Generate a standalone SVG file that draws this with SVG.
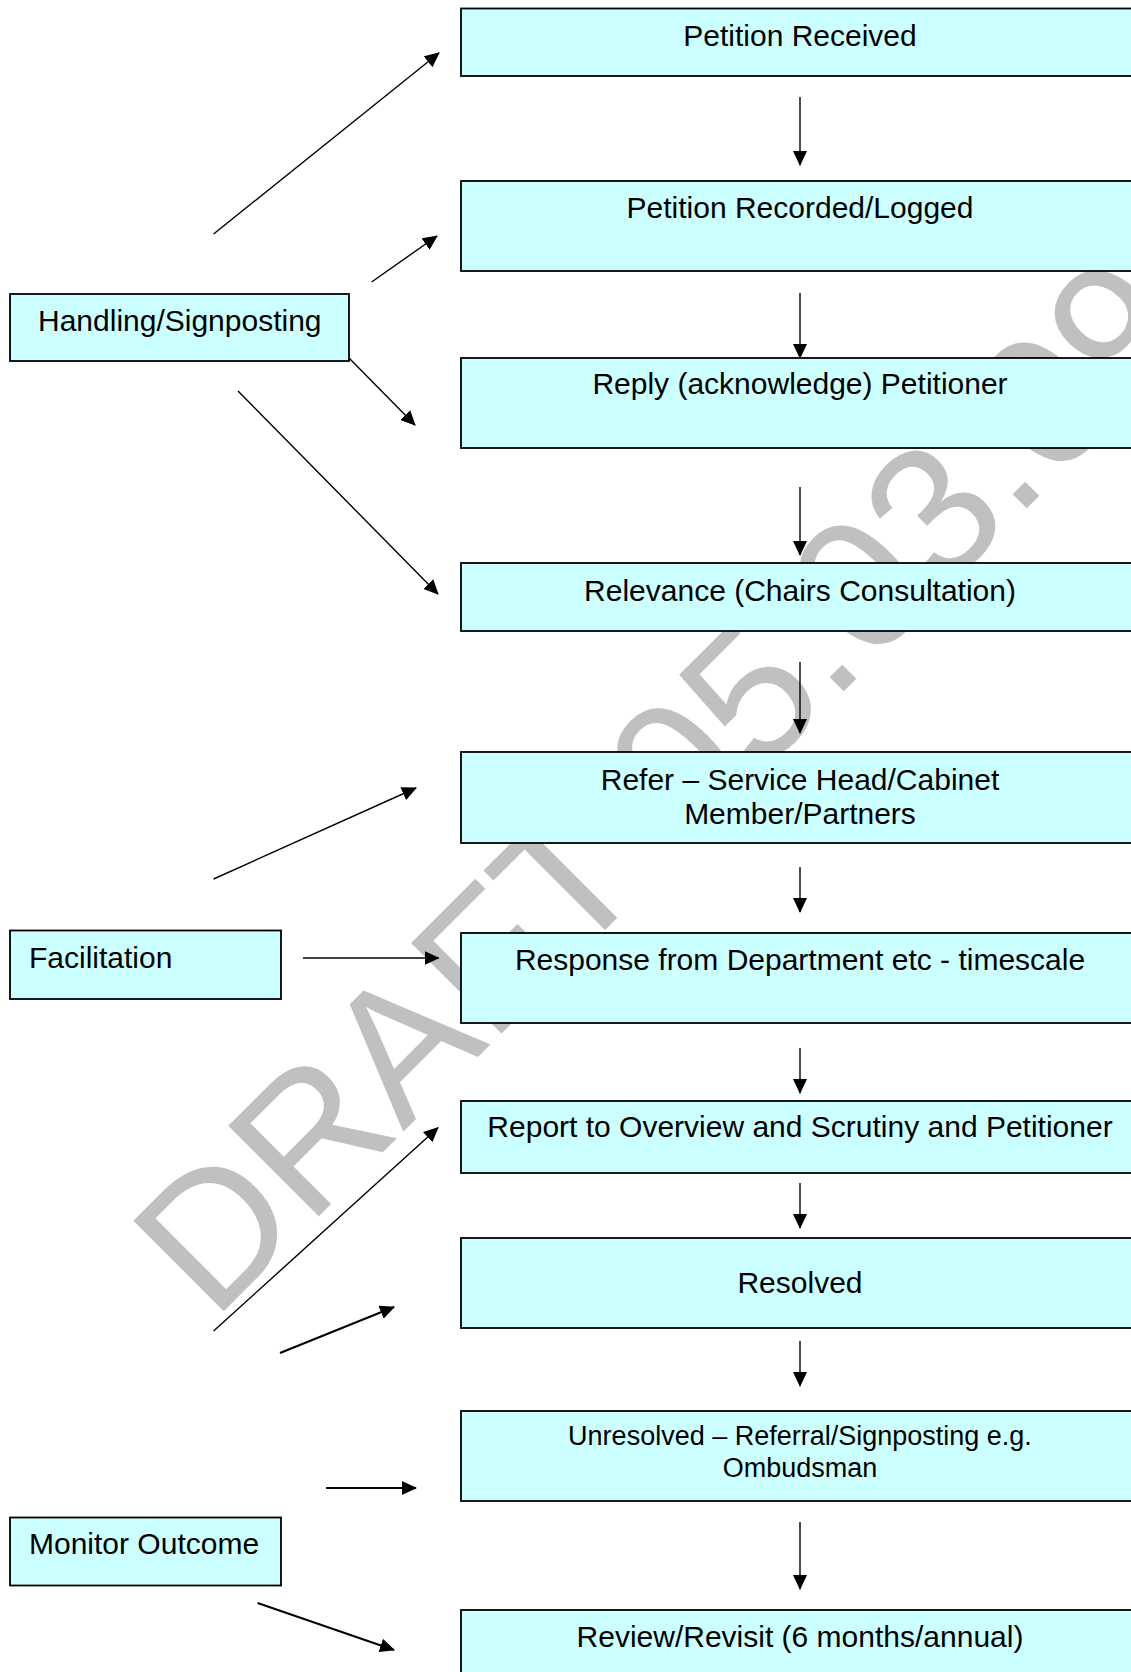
<svg xmlns="http://www.w3.org/2000/svg" width="1131" height="1672" viewBox="0 0 1131 1672">
<style>
.bg{fill:#ffffff}
.wm{fill:#c0c0c0;font-family:"Liberation Sans",Arial,sans-serif;font-size:186px}
.box{fill:#ccffff;stroke:#000;stroke-width:1.8}
.t{font-family:"Liberation Sans",Arial,sans-serif;font-size:30px;fill:#000;text-anchor:middle}
.ts{font-family:"Liberation Sans",Arial,sans-serif;font-size:27px;fill:#000;text-anchor:middle}
.tl{font-family:"Liberation Sans",Arial,sans-serif;font-size:30px;fill:#000}
.c{stroke:#000;stroke-width:1.4;fill:none;marker-end:url(#ah)}
.c2{stroke:#000;stroke-width:2;fill:none;marker-end:url(#ah)}
</style>
<defs>
<marker id="ah" markerUnits="userSpaceOnUse" markerWidth="15" markerHeight="14" refX="14" refY="7" orient="auto" viewBox="0 0 15 14">
<path d="M0,0 L15,7 L0,14 z" fill="#000"/>
</marker>
</defs>
<rect class="bg" x="0" y="0" width="1131" height="1672"/>
<text id="watermark" class="wm" transform="translate(213,1322) rotate(-45)">DRAFT 05.03.09</text>

<g id="n1"><rect class="box" x="461" y="8.5" width="690" height="67.5"/><text class="t" x="800" y="46">Petition Received</text></g>
<g id="n2"><rect class="box" x="461" y="181" width="690" height="90"/><text class="t" x="800" y="218">Petition Recorded/Logged</text></g>
<g id="n3"><rect class="box" x="461" y="358" width="690" height="90"/><text class="t" x="800" y="394">Reply (acknowledge) Petitioner</text></g>
<g id="n4"><rect class="box" x="461" y="563" width="690" height="68"/><text class="t" x="800" y="601">Relevance (Chairs Consultation)</text></g>
<g id="n5"><rect class="box" x="461" y="752" width="690" height="91"/><text class="t" x="800" y="790">Refer – Service Head/Cabinet</text><text class="t" x="800" y="824">Member/Partners</text></g>
<g id="n6"><rect class="box" x="461" y="933" width="690" height="90"/><text class="t" x="800" y="970">Response from Department etc - timescale</text></g>
<g id="n7"><rect class="box" x="461" y="1101" width="690" height="72"/><text class="t" x="800" y="1137">Report to Overview and Scrutiny and Petitioner</text></g>
<g id="n8"><rect class="box" x="461" y="1238" width="690" height="90"/><text class="t" x="800" y="1293">Resolved</text></g>
<g id="n9"><rect class="box" x="461" y="1411" width="690" height="90"/><text class="ts" x="800" y="1445">Unresolved – Referral/Signposting e.g.</text><text class="ts" x="800" y="1477">Ombudsman</text></g>
<g id="n10"><rect class="box" x="461" y="1610" width="690" height="80"/><text class="t" x="800" y="1647">Review/Revisit (6 months/annual)</text></g>

<g id="handling"><rect class="box" x="10" y="294" width="339" height="67"/><text class="tl" x="38" y="331">Handling/Signposting</text></g>
<g id="facilitation"><rect class="box" x="10" y="930.5" width="271" height="68.5"/><text class="tl" x="29" y="968">Facilitation</text></g>
<g id="monitor"><rect class="box" x="10" y="1517.5" width="271" height="68"/><text class="tl" x="29" y="1554">Monitor Outcome</text></g>

<g id="connectors">
<line class="c" x1="800" y1="97" x2="800" y2="165"/>
<line class="c" x1="800" y1="293" x2="800" y2="358"/>
<line class="c" x1="800" y1="487" x2="800" y2="555"/>
<line class="c" x1="800" y1="662" x2="800" y2="733"/>
<line class="c" x1="800" y1="867" x2="800" y2="912"/>
<line class="c" x1="800" y1="1048" x2="800" y2="1093"/>
<line class="c" x1="800" y1="1183" x2="800" y2="1228"/>
<line class="c" x1="800" y1="1341" x2="800" y2="1386"/>
<line class="c" x1="800" y1="1522" x2="800" y2="1589"/>
<line class="c" x1="213.6" y1="234" x2="439" y2="53"/>
<line class="c" x1="371.6" y1="282" x2="437" y2="236"/>
<line class="c" x1="349" y1="358" x2="415" y2="425"/>
<line class="c" x1="238" y1="391" x2="438" y2="594"/>
<line class="c" x1="213.6" y1="879" x2="416" y2="788"/>
<line class="c" x1="303" y1="958" x2="438.5" y2="958"/>
<line class="c" x1="213.6" y1="1331" x2="438" y2="1127.7"/>
<line class="c2" x1="280" y1="1353" x2="394" y2="1307"/>
<line class="c2" x1="326" y1="1488" x2="416" y2="1488"/>
<line class="c2" x1="257.6" y1="1603" x2="394" y2="1650"/>
</g>
</svg>
